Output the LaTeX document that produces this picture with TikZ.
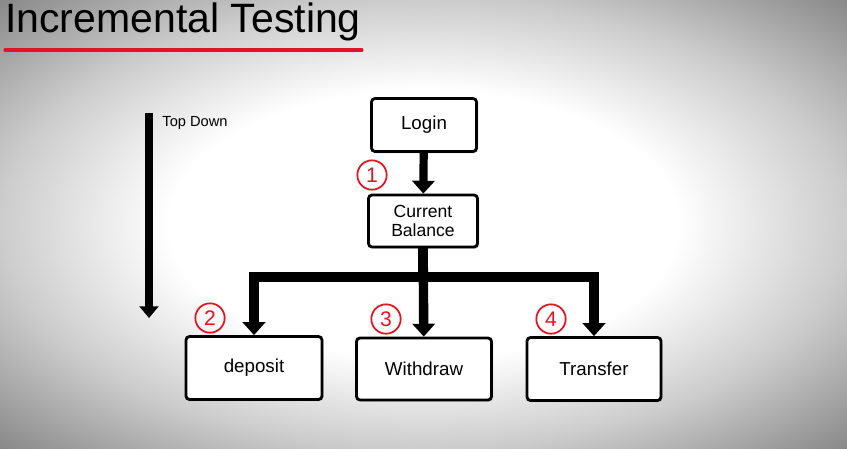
\documentclass[tikz,border=0pt]{standalone}
\usepackage{fontspec}
\setmainfont{Liberation Sans}
\usepackage{tikz}
\usetikzlibrary{arrows.meta,positioning,shadows}
\usepackage[dvipsnames]{xcolor}
\definecolor{rojoIT}{RGB}{225,20,35}
\pgfdeclareradialshading{vineta}{\pgfpoint{0bp}{0bp}}{%
  color(0bp)=(white); color(15bp)=(white);
  color(25bp)=(black!20); color(36bp)=(black!48); color(50bp)=(black!48)}

\begin{document}
\begin{tikzpicture}[
  every node/.style = {align=center, font=\fontsize{16}{18}\selectfont},
  caja/.style  = {rectangle, rounded corners=3pt, draw=black, fill=white,
                  line width=2.4pt,
                  drop shadow={shadow xshift=1.5pt, shadow yshift=-1.5pt,
                               fill=black!25}},
  num/.style   = {circle, draw=rojoIT, text=rojoIT, line width=1.5pt,
                  minimum size=0.88cm, inner sep=0pt,
                  font=\fontsize{18}{18}\selectfont},
  arr/.style   = {-{Triangle[length=11pt,width=19pt]}, line width=8pt},
  arrF/.style  = {-{Triangle[length=10pt,width=16pt]}, line width=6pt},
]
% ── Fondo ────────────────────────────────────────────────────
\shade[shading=vineta] (0,0) rectangle (25.41,-13.44);
\useasboundingbox (0,0) rectangle (25.41,-13.44);

% ── Título ───────────────────────────────────────────────────
\node[anchor=west, font=\fontsize{35}{37}\selectfont, inner sep=0pt]
  (titulo) at (0.15,-0.66) {Incremental Testing};
\draw[rojoIT, line width=2.6pt, line cap=round]
  (0.15,-1.50) coordinate (subA) -- (10.86,-1.50) coordinate (subB);

% ── Nodos ────────────────────────────────────────────────────
\node[caja, minimum width=3.15cm, minimum height=1.59cm]
  (login) at (12.72,-3.75) {Login};
\node[caja, minimum width=3.27cm, minimum height=1.56cm, inner sep=1pt,
      font=\fontsize{15}{16}\selectfont]
  (saldo) at (12.69,-6.63) {Current\\Balance};
\node[caja, minimum width=4.08cm, minimum height=1.89cm]
  (dep)   at (7.62,-11.04)  {deposit};
\node[caja, minimum width=4.05cm, minimum height=1.86cm]
  (ret)   at (12.72,-11.07) {Withdraw};
\node[caja, minimum width=4.02cm, minimum height=1.89cm]
  (trf)   at (17.82,-11.07) {Transfer};

% ── Números ──────────────────────────────────────────────────
\node[num] (n1) at (11.16,-5.25) {1};
\node[num] (n2) at (6.30,-9.54)  {2};
\node[num] (n3) at (11.58,-9.57) {3};
\node[num] (n4) at (16.53,-9.57) {4};

% ── Flechas ──────────────────────────────────────────────────
\draw[arr, line width=7pt] (login) -- (saldo);
\coordinate (J) at (saldo.south |- 0,-8.31);
\draw[arr] (saldo) -- (ret);
\draw[arr] (saldo.south) -- (J) -| (dep);
\draw[arr] (J) -| (trf);

% ── Top Down ─────────────────────────────────────────────────
\coordinate (td1) at (4.47,-3.39);
\coordinate (td2) at (4.47,-9.54);
\draw[arrF] (td1) -- (td2);
\node[anchor=west, font=\fontsize{12.5}{14}\selectfont]
  (tdlbl) at (4.75,-3.70) {Top Down};

\end{tikzpicture}
\end{document}
